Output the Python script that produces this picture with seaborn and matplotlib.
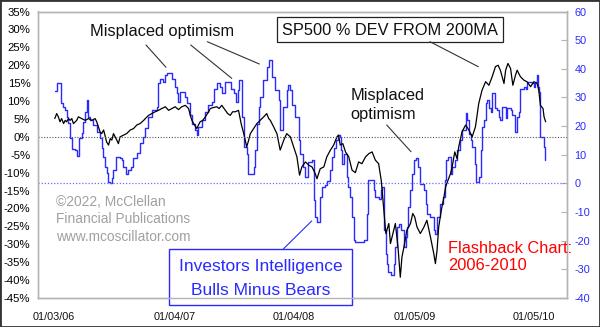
import numpy as np
import pandas as pd
import matplotlib
matplotlib.use("Agg")
import matplotlib.pyplot as plt
from matplotlib.lines import Line2D
from matplotlib.patches import Rectangle
import seaborn as sns

# ---- data -------------------------------------------------------------
start = pd.Timestamp("2006-01-03")

# Investors Intelligence bulls minus bears (right axis), days since start
ii_days = [2, 8, 20, 28, 34, 38, 43, 49, 54, 64, 71, 77, 84, 87, 95, 99, 104, 110,
           120, 130, 140, 145, 150, 156, 160, 165, 171, 176, 181, 189, 201, 206, 211,
           220, 226, 234, 242, 252, 262, 272, 278, 287, 298, 313, 318, 323, 333, 339,
           343, 354, 359, 369, 374, 379, 384, 400, 404, 415, 420, 428, 435, 440, 450,
           461, 470, 481, 486, 496, 506, 513, 522, 540, 547, 554, 560, 564, 574, 580,
           587, 592, 608, 613, 618, 623, 628, 638, 648, 656, 664, 674, 684, 689, 699,
           709, 714, 720, 725, 735, 745, 750, 760, 766, 775, 786, 791, 793, 796, 801,
           811, 816, 827, 833, 842, 847, 852, 860, 864, 870, 874, 877, 882, 892, 897,
           903, 908, 913, 918, 943, 953, 958, 974, 979, 989, 997, 1000, 1004, 1010,
           1014, 1019, 1028, 1035, 1040, 1045, 1050, 1058, 1065, 1071, 1075, 1080,
           1086, 1091, 1096, 1104, 1109, 1116, 1126, 1132, 1136, 1147, 1157, 1162,
           1167, 1177, 1184, 1190, 1194, 1200, 1208, 1213, 1223, 1228, 1238, 1243,
           1254, 1258, 1263, 1269, 1274, 1284, 1286, 1296, 1302, 1304, 1309, 1315,
           1319, 1324, 1330, 1335, 1343, 1350, 1355, 1360, 1365, 1376, 1380, 1391,
           1396, 1406, 1411, 1416, 1421, 1431, 1437, 1441, 1457, 1462, 1467, 1472,
           1475, 1479, 1482, 1492, 1495]
ii_vals = [32.3, 34.9, 28.0, 26.7, 25.6, 23.2, 21.0, 15.8, 11.9, 11.6, 9.5, 15.8, 17.5,
           21.5, 25.0, 29.1, 23.2, 22.1, 20.3, 18.0, 15.8, 12.3, 9.2, 5.7, 3.5, 0.5, 0.1,
           1.8, 4.6, 9.1, 8.8, 8.1, 5.7, 3.2, 4.6, 5.7, 8.8, 10.5, 14.0, 16.2, 19.3, 23.2,
           25.6, 26.7, 34.9, 36.6, 35.5, 37.8, 38.6, 38.4, 36.6, 33.7, 31.4, 28.5, 32.0,
           30.2, 27.9, 23.8, 20.9, 18.6, 16.8, 19.7, 22.1, 25.0, 27.3, 28.5, 33.1, 34.9,
           33.7, 31.4, 35.5, 33.1, 31.4, 28.5, 32.6, 36.0, 23.2, 12.7, 10.4, 3.4, 5.7,
           11.6, 20.9, 26.7, 30.2, 36.0, 40.7, 43.0, 37.2, 32.6, 29.1, 18.6, 26.7, 32.6,
           34.3, 32.6, 27.3, 23.2, 15.1, 10.4, 5.7, 2.2, 7.5, 8.1, 2.2, -5.9, -11.7,
           -13.5, -4.8, -1.3, -0.7, 1.0, 4.6, 9.2, 12.2, 15.1, 16.8, 16.2, 11.6, 6.9,
           10.4, 2.2, -1.3, -4.8, -11.7, -19.9, -20.5, -19.9, -10.6, 1.1, -2.4, -4.8,
           -5.3, -2.4, -1.3, -16.4, -24.5, -28.0, -31.0, -32.1, -28.0, -22.2, -15.2,
           -14.1, -16.4, -22.2, -18.7, -15.2, -8.3, -2.4, 3.4, 8.1, 8.7, 5.7, -0.1,
           -2.4, -7.1, -10.6, -11.7, -16.4, -17.6, -11.7, -7.1, -4.8, 1.1, 8.1, 9.2,
           3.4, 5.7, 8.0, 11.6, 15.1, 18.6, 24.4, 22.1, 17.4, 15.1, 12.7, 6.9, 0.5, 2.2,
           11.6, 19.7, 22.1, 27.9, 29.1, 26.2, 25.0, 31.4, 26.2, 25.6, 23.2, 22.1, 26.7,
           22.7, 26.2, 25.6, 23.8, 18.0, 23.2, 25.0, 33.1, 33.7, 33.1, 35.5, 34.9, 33.7,
           35.5, 37.8, 33.7, 32.0, 16.2, 12.7, 8.1]

# SP500 percent deviation from its 200-day moving average (left axis)
sp_days = [2, 8, 13, 18, 23, 29, 34, 38, 44, 49, 54, 59, 69, 74, 84, 95, 105, 115, 125,
           130, 135, 140, 145, 151, 156, 160, 166, 171, 176, 181, 186, 191, 196, 201,
           212, 221, 232, 242, 252, 262, 273, 278, 288, 298, 308, 318, 328, 339, 349,
           359, 369, 379, 389, 400, 410, 415, 420, 428, 435, 440, 445, 453, 461, 471,
           476, 486, 496, 503, 511, 522, 529, 537, 544, 552, 562, 570, 578, 587, 593,
           598, 608, 618, 628, 639, 648, 654, 659, 669, 679, 689, 700, 709, 720, 730,
           740, 748, 755, 766, 776, 786, 796, 801, 811, 822, 831, 842, 852, 862, 867,
           872, 880, 888, 898, 908, 918, 928, 938, 949, 959, 969, 979, 989, 997, 1005,
           1011, 1020, 1025, 1035, 1040, 1048, 1055, 1060, 1066, 1075, 1086, 1093,
           1099, 1106, 1116, 1127, 1136, 1147, 1157, 1162, 1167, 1172, 1180, 1188,
           1193, 1200, 1208, 1213, 1221, 1228, 1233, 1243, 1254, 1264, 1274, 1284,
           1294, 1304, 1315, 1325, 1335, 1345, 1353, 1360, 1371, 1376, 1383, 1391,
           1398, 1406, 1411, 1421, 1432, 1441, 1452, 1462, 1472, 1477, 1482, 1490,
           1493, 1498]
sp_vals = [5.1, 6.5, 5.6, 4.2, 5.1, 3.7, 4.6, 4.2, 5.1, 4.6, 5.1, 3.7, 4.6, 5.6, 5.1,
           4.6, 5.1, 4.6, 5.1, 4.2, 2.8, 1.4, 0.9, 1.9, 0.0, -1.4, -2.3, -0.5, -0.9, 0.9,
           0.0, -0.9, -1.9, 0.0, 0.5, 0.9, 1.9, 2.3, 3.3, 3.7, 4.6, 5.1, 6.0, 6.5, 7.0,
           7.4, 7.9, 8.4, 7.4, 7.9, 8.4, 7.6, 8.4, 8.8, 7.9, 6.0, 4.6, 3.3, 2.3, 3.3, 4.2,
           4.6, 5.6, 7.0, 7.9, 8.2, 8.4, 7.9, 8.8, 7.4, 6.5, 6.0, 7.0, 7.0, 7.4, 3.7, 0.9,
           -2.8, -0.9, 0.9, 2.3, 3.7, 4.6, 5.6, 6.5, 5.1, 4.6, 2.8, 0.9, -3.7, -0.9, 0.9,
           0.0, -2.8, -5.6, -10.7, -8.4, -7.0, -7.9, -8.4, -10.3, -11.7, -8.9, -8.4,
           -5.6, -3.7, -2.3, 0.0, 0.5, -2.3, -1.9, -4.2, -5.6, -9.3, -10.0, -7.0, -7.5,
           -5.6, -4.7, -4.2, -6.5, -7.5, -12.2, -20.5, -27.0, -24.2, -29.8, -26.1,
           -24.2, -30.8, -39.2, -33.6, -30.8, -26.1, -24.2, -21.4, -22.4, -25.2, -27.0,
           -25.2, -23.3, -28.0, -32.6, -35.4, -31.7, -25.2, -20.5, -16.8, -14.0, -12.2,
           -10.3, -8.4, -4.2, -6.1, -2.8, 1.4, 3.3, 1.9, 0.0, 2.8, 9.3, 13.0, 15.4, 14.4,
           16.8, 19.6, 20.0, 18.6, 14.9, 18.6, 20.5, 19.1, 14.4, 17.2, 18.6, 16.8, 15.8,
           15.4, 14.0, 15.4, 14.9, 13.0, 8.8, 7.9, 5.6, 4.2]

left_ticks = list(range(-45, 36, 5))
right_ticks = list(range(-40, 61, 10))
x_tick_dates = ["2006-01-03", "2007-01-04", "2008-01-04", "2009-01-05", "2010-01-05"]

ii = pd.DataFrame({"date": start + pd.to_timedelta(ii_days, unit="D"), "value": ii_vals})
sp = pd.DataFrame({"date": start + pd.to_timedelta(sp_days, unit="D"), "value": sp_vals})

# ---- style ------------------------------------------------------------
sns.set_style("white")
plt.rcParams["font.family"] = ["Liberation Sans", "DejaVu Sans"]

W, H = 600, 327
BLUE = "#2a2aff"
FRAME = "#b4b4b4"


def fx(px):
    return px / W


def fy(py):
    return 1 - py / H


fig = plt.figure(figsize=(W / 100, H / 100), dpi=100)
ax = fig.add_axes([fx(38), fy(298), (567 - 38) / W, (298 - 11.5) / H])
ax2 = ax.twinx()

# bulls-minus-bears on the right scale, SP500 deviation on the left scale
sns.lineplot(data=ii, x="date", y="value", ax=ax2, color=BLUE, lw=1.0,
             drawstyle="steps-post", estimator=None)
ax2.axhline(0, color="#6b6bff", lw=0.9, ls=(0, (1, 1.5)))
sns.lineplot(data=sp, x="date", y="value", ax=ax, color="black", lw=0.9,
             estimator=None)
ax.axhline(0, color="#555555", lw=0.8, ls=(0, (1, 1.5)))

ax.set_zorder(ax2.get_zorder() + 1)
ax.patch.set_visible(False)

ax.set_xlim(pd.Timestamp("2005-11-15"), pd.Timestamp("2010-04-15"))
ax.set_ylim(-45, 35)
ax2.set_ylim(-40, 60)

ax.set_yticks(left_ticks)
ax.set_yticklabels([f"{v}%" for v in left_ticks])
ax2.set_yticks(right_ticks)
ax2.set_yticklabels([str(v) for v in right_ticks])
xt = pd.to_datetime(x_tick_dates)
ax.set_xticks(xt)
ax.set_xticklabels([d.strftime("%m/%d/%y") for d in xt])

ax.set_xlabel("")
ax.set_ylabel("")
ax2.set_ylabel("")
ax.tick_params(axis="y", length=0, pad=5.5, labelsize=8.2, labelcolor="black")
ax.tick_params(axis="x", length=0, pad=10, labelsize=7.8, labelcolor="#111111")
ax2.tick_params(axis="y", direction="in", length=4.5, width=0.8, color=FRAME,
                pad=5.5, labelsize=7.8, labelcolor=BLUE)
for a in (ax, ax2):
    for s in a.spines.values():
        s.set_color(FRAME)
        s.set_linewidth(1.0)

# ---- annotations ------------------------------------------------------
def fig_line(x0, y0, x1, y1, color="#333333"):
    fig.add_artist(Line2D([fx(x0), fx(x1)], [fy(y0), fy(y1)], color=color,
                          lw=0.8, transform=fig.transFigure))


fig.text(fx(162.5), fy(36), "Misplaced optimism", ha="center", va="baseline",
         fontsize=11.8, color="#111111")
fig_line(146, 45, 166, 67.3)
fig_line(190.7, 45, 231.7, 78.3)
fig_line(207.3, 41.7, 259.3, 64)

fig.add_artist(Rectangle((fx(276.7), fy(41.7)), (502.7 - 276.7) / W, (41.7 - 17.3) / H,
                         transform=fig.transFigure, facecolor="white",
                         edgecolor="#222222", lw=0.9))
fig.text(fx(389.7), fy(35), "SP500 % DEV FROM 200MA", ha="center", va="baseline",
         fontsize=11.8, color="#111111")
fig_line(430, 41.7, 478.3, 66.7)

fig.text(fx(350.5), fy(100), "Misplaced", ha="left", va="baseline",
         fontsize=11.8, color="#111111")
fig.text(fx(350.5), fy(119.3), "optimism", ha="left", va="baseline",
         fontsize=11.8, color="#111111")
fig_line(386.7, 125, 411, 151.7)

for txt, by in [("\u00a92022, McClellan", 206), ("Financial Publications", 223.3),
                ("www.mcoscillator.com", 240.7)]:
    fig.text(fx(56), fy(by), txt, ha="left", va="baseline", fontsize=9.9,
             color="#a0a0a0")

fig.add_artist(Rectangle((fx(169.5), fy(304.6)), (351.7 - 169.5) / W, (304.6 - 249) / H,
                         transform=fig.transFigure, facecolor="white",
                         edgecolor=BLUE, lw=1.0))
fig.text(fx(260.5), fy(270.7), "Investors Intelligence", ha="center", va="baseline",
         fontsize=12.5, color=BLUE)
fig.text(fx(260.5), fy(295), "Bulls Minus Bears", ha="center", va="baseline",
         fontsize=12.5, color=BLUE)
fig_line(283.3, 249, 311.7, 221, color=BLUE)

fig.text(fx(447.7), fy(252.7), "Flashback Chart:", ha="left", va="baseline",
         fontsize=11.8, color="#ff0000")
fig.text(fx(447.7), fy(270), "2006-2010", ha="left", va="baseline",
         fontsize=11.8, color="#ff0000")

# outer border of the image
fig.add_artist(Rectangle((0, 0), 1, 1, transform=fig.transFigure, fill=False,
                         edgecolor="#333333", lw=2))

fig.savefig("out.png", dpi=100)
